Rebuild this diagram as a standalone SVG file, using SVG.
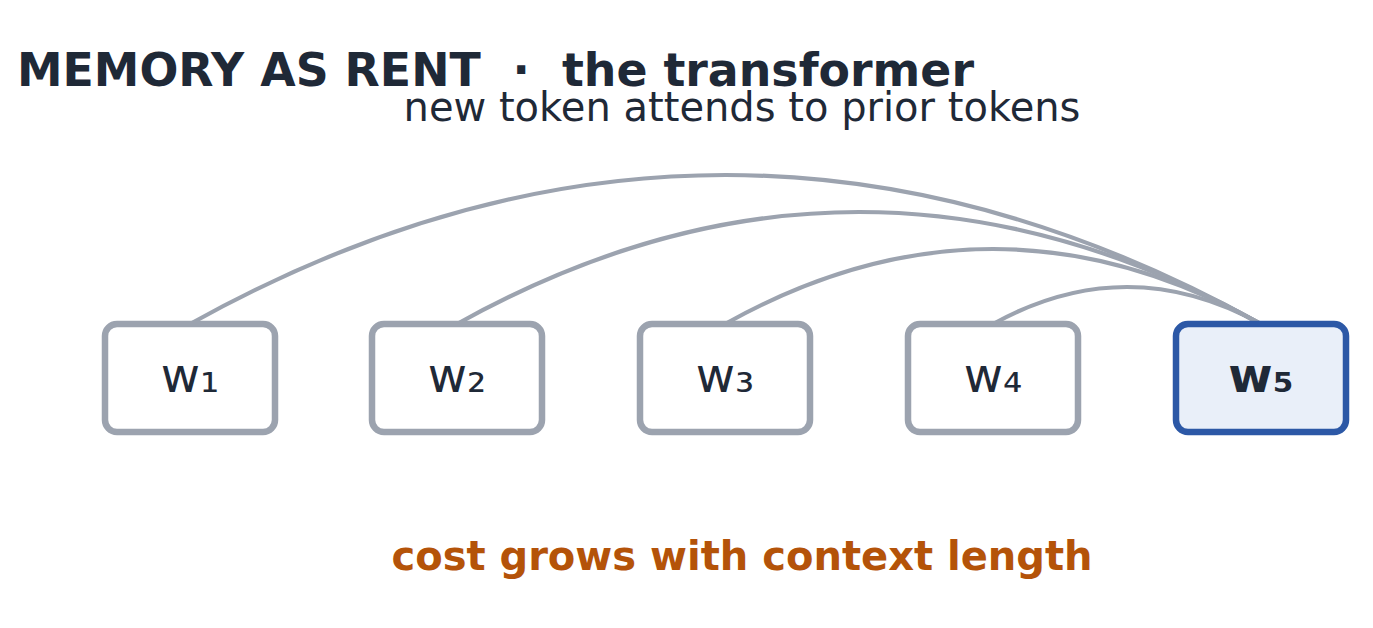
<svg xmlns="http://www.w3.org/2000/svg" width="1373" height="628" viewBox="0 0 1373 628">
<style>
.t{font-family:"DejaVu Sans",sans-serif;fill:#1f2937}
.box{fill:#ffffff;stroke:#9ca3af;stroke-width:6.5}
.hl{fill:#e9eff9;stroke:#2c58a6;stroke-width:6.5}
.lbl{font-family:"DejaVu Sans",sans-serif;font-size:48px;fill:#1f2937;text-anchor:middle}
.edge{fill:none;stroke:#9ca3af;stroke-width:4.2;stroke-linecap:round}
</style>
<rect width="1373" height="628" fill="#ffffff"/>
<text class="t" x="17" y="86" font-size="45.8" font-weight="bold" xml:space="preserve">MEMORY AS RENT  ·  the transformer</text>
<text class="t" x="742" y="121" font-size="40" text-anchor="middle">new token attends to prior tokens</text>
<g id="connectors">
<path class="edge" d="M190,324 Q725.5,26 1261,324"/>
<path class="edge" d="M457,324 Q859,100 1261,324"/>
<path class="edge" d="M725,324 Q993,174 1261,324"/>
<path class="edge" d="M993,324 Q1127,250 1261,324"/>
</g>
<g id="w1"><rect class="box" x="105" y="324" width="170" height="108" rx="12"/><text class="lbl" x="190" y="392">w₁</text></g>
<g id="w2"><rect class="box" x="372" y="324" width="170" height="108" rx="12"/><text class="lbl" x="457" y="392">w₂</text></g>
<g id="w3"><rect class="box" x="640" y="324" width="170" height="108" rx="12"/><text class="lbl" x="725" y="392">w₃</text></g>
<g id="w4"><rect class="box" x="908" y="324" width="170" height="108" rx="12"/><text class="lbl" x="993" y="392">w₄</text></g>
<g id="w5"><rect class="hl" x="1176" y="324" width="170" height="108" rx="12"/><text class="lbl" x="1261" y="392" font-weight="bold">w₅</text></g>
<text x="742" y="570" font-family="DejaVu Sans, sans-serif" font-size="40" font-weight="bold" fill="#b45309" text-anchor="middle">cost grows with context length</text>
</svg>
